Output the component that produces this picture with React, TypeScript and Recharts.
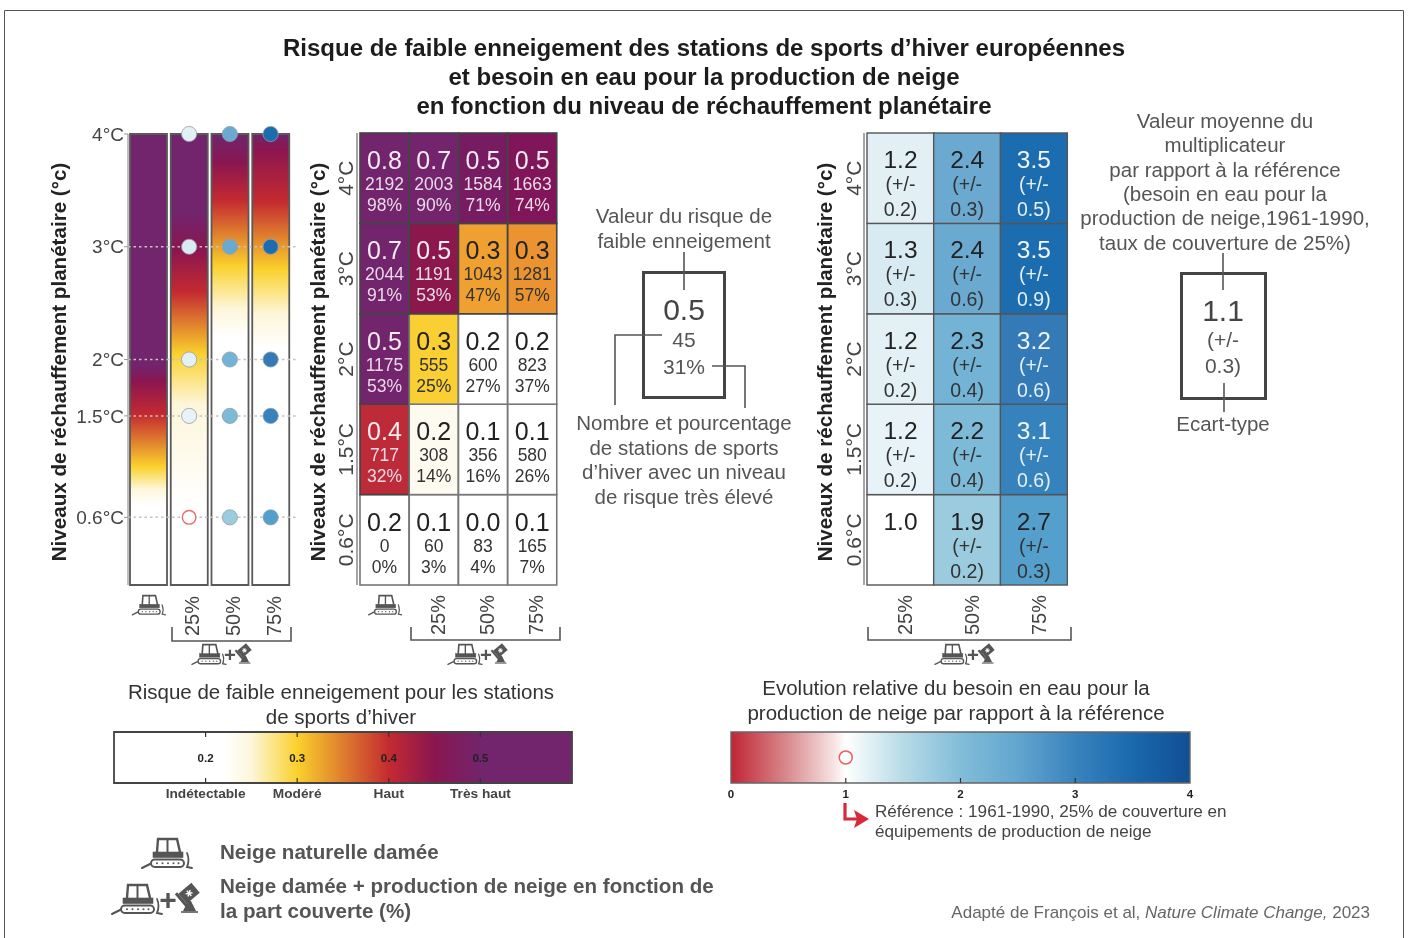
import React from 'react';
import { BarChart, ComposedChart, Bar, Line, Cell, XAxis, YAxis, ReferenceLine, ReferenceDot } from 'recharts';

// ---------- DATA ----------
const levelValues = [0.6, 1.5, 2, 3, 4];
const levelLabels = ['0.6°C', '1.5°C', '2°C', '3°C', '4°C'];
const riskScenarios = ['natural', '25%', '50%', '75%'];
const demandScenarios = ['25%', '50%', '75%'];

// all arrays below: 0.6 / 1.5 / 2 / 3 / 4 °C
const riskNatural = [0.2, 0.4, 0.5, 0.7, 0.8];
const risk25 = [0.1, 0.2, 0.3, 0.5, 0.7];
const risk50 = [0.0, 0.1, 0.2, 0.3, 0.5];
const risk75 = [0.1, 0.1, 0.2, 0.3, 0.5];
const countNatural = [0, 717, 1175, 2044, 2192];
const count25 = [60, 308, 555, 1191, 2003];
const count50 = [83, 356, 600, 1043, 1584];
const count75 = [165, 580, 823, 1281, 1663];
const pctNatural = [0, 32, 53, 91, 98];
const pct25 = [3, 14, 25, 53, 90];
const pct50 = [4, 16, 27, 47, 71];
const pct75 = [7, 26, 37, 57, 74];
const mult25 = [1.0, 1.2, 1.2, 1.3, 1.2];
const mult50 = [1.9, 2.2, 2.3, 2.4, 2.4];
const mult75 = [2.7, 3.1, 3.2, 3.5, 3.5];
const sd25 = [null, 0.2, 0.2, 0.3, 0.2];
const sd50 = [0.2, 0.4, 0.4, 0.6, 0.3];
const sd75 = [0.3, 0.6, 0.6, 0.9, 0.5];

// warming level at which each strip reaches the risk values of riskScale
const riskScale = [0.22, 0.25, 0.3, 0.4, 0.45, 0.5];
const stripNatural = [0.7, 0.85, 1.05, 1.51, 1.81, 1.95];
const strip25 = [0.7, 1.6, 2.05, 2.6, 2.97, 3.29];
const strip50 = [2.2, 2.45, 2.83, 3.41, 3.74, 3.98];
const strip75 = [2.09, 2.4, 2.8, 3.4, 3.87, 4.0];

const riskTicks = [0.2, 0.3, 0.4, 0.5];
const riskClasses = ['Indétectable', 'Modéré', 'Haut', 'Très haut'];
const demandTicks = [0, 1, 2, 3, 4];

// ---------- PALETTES ----------
const riskScaleColors = ['#ffffff', '#fdf6da', '#fad12c', '#c42a30', '#8a1650', '#72246c'];
const riskFillNatural = ['#ffffff', '#bd2a38', '#72246c', '#72246c', '#72246c'];
const riskFill25 = ['#ffffff', '#fdfaf0', '#f9cf34', '#8b174d', '#74246c'];
const riskFill50 = ['#ffffff', '#ffffff', '#ffffff', '#efa030', '#771c63'];
const riskFill75 = ['#ffffff', '#ffffff', '#ffffff', '#ea9330', '#80155a'];
const demandFill25 = ['#ffffff', '#e7f3f9', '#e3f0f6', '#d9ebf2', '#e2f0f6'];
const demandFill50 = ['#9bcbde', '#7cbad7', '#73b4d6', '#6aa9d0', '#6ba9d0'];
const demandFill75 = ['#559fcc', '#3582bd', '#337ab7', '#1c6cb0', '#1c6cb0'];
const demandBarStops = [
  [0, '#c02535'], [0.5, '#d98c90'], [0.9, '#f7e4e3'], [1, '#ffffff'], [1.5, '#b7dbe7'],
  [2, '#82bdd8'], [2.5, '#62a6cf'], [3, '#3983bd'], [3.5, '#1a68ae'], [4, '#114f94'],
];

const FONT = '"Liberation Sans", Arial, sans-serif';

const luma = (hex: string) => {
  const n = parseInt(hex.slice(1), 16);
  return 0.299 * (n >> 16) + 0.587 * ((n >> 8) & 255) + 0.114 * (n & 255);
};

// ---------- TABLES ----------
const strips = [stripNatural, strip25, strip50, strip75];
const dotFills = [null, demandFill25, demandFill50, demandFill75];
const stripData = riskScenarios.map((name, i) => {
  const row: any = { name, top: 4 };
  levelValues.forEach((v, r) => { row['l' + r] = i === 0 ? null : v; });
  return row;
});

const riskCols = [
  [riskNatural, countNatural, pctNatural, riskFillNatural],
  [risk25, count25, pct25, riskFill25],
  [risk50, count50, pct50, riskFill50],
  [risk75, count75, pct75, riskFill75],
];
const demandCols = [
  [mult25, sd25, demandFill25],
  [mult50, sd50, demandFill50],
  [mult75, sd75, demandFill75],
];
const cellRow = (name: string) => {
  const row: any = { name };
  levelValues.forEach((_, r) => { row['r' + r] = 1; });
  return row;
};
const riskData = riskScenarios.map(cellRow);
const demandData = demandScenarios.map(cellRow);
const rowTicks = levelValues.map((_, i) => i + 0.5);

// ---------- ICONS ----------
function Groomer({ x, y, s = 1 }: any) {
  return (
    <g transform={`translate(${x},${y}) scale(${s})`} fill="none" stroke="#555" strokeLinecap="round">
      <path d="M15 14 L16 1 H35 L38 14" strokeWidth="2.4" />
      <path d="M25.5 1 V14" strokeWidth="2" />
      <rect x="11" y="14" width="30" height="5.5" fill="#555" strokeWidth="0.6" />
      <rect x="9" y="21.5" width="33" height="7.5" rx="3.7" strokeWidth="2" />
      {[15, 20.5, 26, 31.5, 36.5].map((d) => <circle key={d} cx={d} cy="25.2" r="1" fill="#555" stroke="none" />)}
      <path d="M0 30 L8 26" strokeWidth="2" />
      <path d="M45 15 Q48 22 45 29 L50 30" strokeWidth="1.8" />
    </g>
  );
}
function Cannon({ x, y, s = 1 }: any) {
  return (
    <g transform={`translate(${x},${y}) scale(${s})`}>
      <g transform="rotate(-40 12 12)">
        <rect x="4" y="5" width="17" height="13" fill="#555" />
        <rect x="1" y="3" width="3" height="17" fill="#555" />
        <path d="M12.5 8 V15 M9.5 9.7 L15.5 13.3 M15.5 9.7 L9.5 13.3" stroke="#fff" strokeWidth="1.4" />
      </g>
      <path d="M11 19 L6 29 H19 L14 19 Z" fill="#555" />
      <path d="M4 30 H21" stroke="#555" strokeWidth="1.6" />
    </g>
  );
}
function IconPlus({ x, y, s }: any) {
  return (
    <g>
      <Groomer x={x} y={y} s={s} />
      <text x={x + 56 * s} y={y + 26 * s} fontSize={30 * s} fontWeight="bold" fill="#555" textAnchor="middle">+</text>
      <Cannon x={x + 65 * s} y={y - 2 * s} s={s} />
    </g>
  );
}

// ---------- AXIS TICKS ----------
const RotatedTick = (dx: number, dy: number, size: number) => (p: any) => {
  const { x, y, payload } = p;
  if (payload.value === 'natural') return <Groomer x={x - 16} y={y + 10} s={0.66} />;
  return (
    <text transform={`translate(${x + dx},${y + dy}) rotate(-90)`} textAnchor="end" fontSize={size} fontFamily={FONT} fill="#444">
      {payload.value}
    </text>
  );
};
const LevelTick = (p: any) => {
  const { x, y, payload } = p;
  const label = levelLabels[Math.floor(payload.value)];
  return (
    <text transform={`translate(${x},${y}) rotate(-90)`} textAnchor="middle" fontSize={21} fontFamily={FONT} fill="#444">
      {label}
    </text>
  );
};

const RiskCell = (r: number) => (p: any) => {
  const { x, y, width, height, index } = p;
  const [vals, counts, pcts, fills] = riskCols[index] as any[];
  const fill = fills[r];
  const light = luma(fill) < 125;
  const cx = x + width / 2;
  return (
    <g fontFamily={FONT} textAnchor="middle">
      <rect x={x} y={y} width={width} height={height} fill={fill} stroke={light || luma(fill) < 200 ? '#444' : '#777'} strokeWidth={1.6} />
      <text x={cx} y={y + 36} fontSize={25} fill={light ? '#f1ecf0' : '#222'}>{vals[r].toFixed(1)}</text>
      <text x={cx} y={y + 57} fontSize={17.5} fill={light ? '#e8dbe6' : '#333'}>{counts[r]}</text>
      <text x={cx} y={y + 78} fontSize={17.5} fill={light ? '#e8dbe6' : '#333'}>{pcts[r]}%</text>
    </g>
  );
};
const DemandCell = (r: number) => (p: any) => {
  const { x, y, width, height, index } = p;
  const [vals, sds, fills] = demandCols[index] as any[];
  const fill = fills[r];
  const light = luma(fill) < 125;
  const cx = x + width / 2;
  return (
    <g fontFamily={FONT} textAnchor="middle">
      <rect x={x} y={y} width={width} height={height} fill={fill} stroke="#555" strokeWidth={1.4} />
      <text x={cx} y={y + 35} fontSize={24.5} fill={light ? '#f2f6fa' : '#222'}>{vals[r].toFixed(1)}</text>
      {sds[r] !== null && (
        <>
          <text x={cx} y={y + 58} fontSize={19.5} fill={light ? '#e6eff6' : '#333'}>(+/-</text>
          <text x={cx} y={y + 83} fontSize={19.5} fill={light ? '#e6eff6' : '#333'}>{sds[r].toFixed(1)})</text>
        </>
      )}
    </g>
  );
};

const BarTick = (labels: string[] | null, mode: 'risk' | 'demand') => (p: any) => {
  const { x, y, payload, index } = p;
  const top = y - 51;
  return (
    <g fontFamily={FONT} textAnchor="middle">
      {mode === 'risk' && <line x1={x} x2={x} y1={top} y2={top + 5} stroke="#333" strokeWidth={1.2} />}
      {!(mode === 'demand' && (payload.value === 0 || payload.value === 4)) && (
        <line x1={x} x2={x} y1={y - 5} y2={y} stroke="#333" strokeWidth={1.2} />
      )}
      {mode === 'risk' && <text x={x} y={y - 21} fontSize={11.5} fontWeight="bold" fill="#222">{payload.value.toFixed(1)}</text>}
      {mode === 'risk' && <text x={x} y={y + 15} fontSize={13.7} fontWeight="bold" fill="#444">{labels![index]}</text>}
      {mode === 'demand' && <text x={x} y={y + 15} fontSize={11.5} fontWeight="bold" fill="#222">{payload.value}</text>}
    </g>
  );
};

// ---------- CHARTS ----------
function StripChart() {
  return (
    <div style={{ position: 'absolute', left: 40, top: 120 }}>
      <ComposedChart width={270} height={535} data={stripData} barCategoryGap={0}
        margin={{ top: 14, right: 14, bottom: 0, left: 0 }}>
        <defs>
          {strips.map((t, i) => (
            <linearGradient key={i} id={`strip${i}`} x1="0" y1="1" x2="0" y2="0">
              {t.map((lv, k) => (
                <stop key={k} offset={lv / 4} stopColor={riskScaleColors[k]} />
              ))}
            </linearGradient>
          ))}
        </defs>
        <XAxis dataKey="name" height={70} axisLine={false} tickLine={false} tick={RotatedTick(10, 11, 20)} interval={0} tickSize={0} tickMargin={0}
          padding={{ left: 0, right: 5 }} />
        <YAxis type="number" width={88} domain={[0, 4]} ticks={levelValues} interval={0}
          tickFormatter={(v: number) => `${v}°C`} tick={{ fontSize: 19, fontFamily: FONT, fill: '#444' }}
          axisLine={{ stroke: '#aaa', strokeWidth: 1.5 }} tickLine={{ stroke: '#999' }} tickSize={4} tickMargin={0} />
        <Bar dataKey="top" barSize={37} stroke="#5a5a5a" strokeWidth={1.8} isAnimationActive={false}>
          {stripData.map((_, i) => <Cell key={i} fill={`url(#strip${i})`} />)}
        </Bar>
        {levelValues.slice(0, 4).map((v) => (
          <ReferenceLine key={v} y={v} stroke="#c4c4c4" strokeWidth={1.5} strokeDasharray="2.5 3" />
        ))}
        {levelValues.map((_, r) => (
          <Line key={r} dataKey={'l' + r} stroke="none" isAnimationActive={false} legendType="none"
            dot={(p: any) => {
              if (p.cy == null || p.value == null || !dotFills[p.index]) return <g key={p.index} />;
              const fill = (dotFills[p.index] as string[])[r];
              const hollow = fill === '#ffffff';
              return (
                <circle key={p.index} cx={p.cx} cy={p.cy} r={hollow ? 6.8 : 7.6} fill={fill}
                  stroke={hollow ? '#ec6a6a' : '#8f9ea8'} strokeWidth={hollow ? 1.4 : 0.8} />
              );
            }} />
        ))}
      </ComposedChart>
    </div>
  );
}

function RiskHeat() {
  return (
    <div style={{ position: 'absolute', left: 300, top: 120 }}>
      <BarChart width={270} height={535} data={riskData} barCategoryGap={0}
        margin={{ top: 13, right: 13, bottom: 0, left: 0 }}>
        <XAxis dataKey="name" height={70} axisLine={false} tickLine={false} padding={{ left: 3, right: 0 }}
          tick={RotatedTick(11, 10, 20)} interval={0} tickSize={0} tickMargin={0} />
        <YAxis type="number" width={57} domain={[0, 5]} ticks={rowTicks} interval={0} tick={LevelTick}
          axisLine={{ stroke: '#888', strokeWidth: 1.5 }} tickLine={false} tickSize={0} tickMargin={4} />
        {levelValues.map((_, r) => (
          <Bar key={r} dataKey={'r' + r} stackId="cells" shape={RiskCell(r)} isAnimationActive={false} />
        ))}
      </BarChart>
    </div>
  );
}

function DemandHeat() {
  return (
    <div style={{ position: 'absolute', left: 810, top: 120 }}>
      <BarChart width={270} height={535} data={demandData} barCategoryGap={0}
        margin={{ top: 13, right: 13, bottom: 0, left: 0 }}>
        <XAxis dataKey="name" height={70} axisLine={false} tickLine={false} padding={{ left: 3, right: 0 }}
          tick={RotatedTick(12, 10, 20)} interval={0} tickSize={0} tickMargin={0} />
        <YAxis type="number" width={54} domain={[0, 5]} ticks={rowTicks} interval={0} tick={LevelTick}
          axisLine={{ stroke: '#888', strokeWidth: 1.5 }} tickLine={false} tickSize={0} tickMargin={3} />
        {levelValues.map((_, r) => (
          <Bar key={r} dataKey={'r' + r} stackId="cells" shape={DemandCell(r)} isAnimationActive={false} />
        ))}
      </BarChart>
    </div>
  );
}

function RiskBar() {
  const data = [{ name: 'risk', span: [0.1, 0.6] }];
  return (
    <div style={{ position: 'absolute', left: 94, top: 722 }}>
      <BarChart layout="vertical" width={498} height={95} data={data} barCategoryGap={0}
        margin={{ top: 10, right: 20, bottom: 0, left: 20 }}>
        <defs>
          <linearGradient id="riskBar" x1="0" y1="0" x2="1" y2="0">
            {riskScale.map((v, k) => (
              <stop key={k} offset={(v - 0.1) / 0.5} stopColor={riskScaleColors[k]} />
            ))}
          </linearGradient>
        </defs>
        <XAxis type="number" domain={[0.1, 0.6]} ticks={riskTicks} interval={0} height={34} axisLine={false} tickLine={false}
          tickSize={0} tickMargin={0} tick={BarTick(riskClasses, 'risk')} />
        <YAxis type="category" dataKey="name" hide />
        <Bar dataKey="span" fill="url(#riskBar)" stroke="#444" strokeWidth={1.8} isAnimationActive={false} />
      </BarChart>
    </div>
  );
}

function DemandBar() {
  const data = [{ name: 'demand', span: [0, 4] }];
  return (
    <div style={{ position: 'absolute', left: 711, top: 722 }}>
      <BarChart layout="vertical" width={499} height={95} data={data} barCategoryGap={0}
        margin={{ top: 10, right: 20, bottom: 0, left: 20 }}>
        <defs>
          <linearGradient id="demandBar" x1="0" y1="0" x2="1" y2="0">
            {demandBarStops.map(([v, c]: any, k) => (
              <stop key={k} offset={v / 4} stopColor={c} />
            ))}
          </linearGradient>
        </defs>
        <XAxis type="number" domain={[0, 4]} ticks={demandTicks} interval={0} height={34} axisLine={false} tickLine={false}
          tickSize={0} tickMargin={0} tick={BarTick(null, 'demand')} />
        <YAxis type="category" dataKey="name" hide />
        <Bar dataKey="span" fill="url(#demandBar)" stroke="#666" strokeWidth={1.4} isAnimationActive={false} />
        <ReferenceDot x={1} y="demand" r={6.5} fill="#fff" stroke="#ec5f5f" strokeWidth={1.5} />
      </BarChart>
    </div>
  );
}

// ---------- OVERLAY ----------
const Lines = ({ x, ys, lines, size, fill, weight, anchor = 'middle' }: any) => (
  <g fontSize={size} fill={fill} fontWeight={weight} textAnchor={anchor}>
    {lines.map((t: string, i: number) => <text key={i} x={x} y={ys[i]}>{t}</text>)}
  </g>
);

function Overlay() {
  const line = { stroke: '#555', strokeWidth: 1.6, fill: 'none' };
  return (
    <svg width={1411} height={938} style={{ position: 'absolute', left: 0, top: 0 }} fontFamily={FONT}>
      <path d="M4.5 938 V10.5 H1403.5 V938" fill="none" stroke="#555" strokeWidth={1} />
      <Lines x={704} ys={[56, 85, 114]} size={24.03} fill="#1c1c1c" weight="bold" lines={[
        'Risque de faible enneigement des stations de sports d’hiver européennes',
        'et besoin en eau pour la production de neige',
        'en fonction du niveau de réchauffement planétaire',
      ]} />
      {[[66, 362], [325, 362], [832, 362]].map(([x, y]) => (
        <text key={x} transform={`translate(${x},${y}) rotate(-90)`} textAnchor="middle" fontSize={20.6} fontWeight="bold" fill="#222">
          Niveaux de réchauffement planétaire (°c)
        </text>
      ))}

      {/* brackets */}
      <path d="M172 627 V641 H291 V627" {...line} />
      <path d="M411 627 V640 H560 V627" {...line} />
      <path d="M868 627 V640 H1071 V627" {...line} />
      <IconPlus x={192} y={644} s={0.68} />
      <IconPlus x={448} y={644} s={0.68} />
      <IconPlus x={935} y={644} s={0.68} />

      {/* explanation box 1 */}
      <Lines x={684} ys={[223, 248]} size={20.5} fill="#555" lines={['Valeur du risque de', 'faible enneigement']} />
      <rect x={643.5} y={272.5} width={81} height={125} fill="none" stroke="#444" strokeWidth={3} />
      <path d="M684 252 V290 M662 335 H615 V405 M712 366 H745 V408" {...line} />
      <text x={684} y={320} fontSize={30} textAnchor="middle" fill="#444">0.5</text>
      <text x={684} y={347} fontSize={21} textAnchor="middle" fill="#555">45</text>
      <text x={684} y={374} fontSize={21} textAnchor="middle" fill="#555">31%</text>
      <Lines x={684} ys={[430, 455, 479, 504]} size={20.5} fill="#555" lines={[
        'Nombre et pourcentage', 'de stations de sports', 'd’hiver avec un niveau', 'de risque très élevé',
      ]} />

      {/* explanation box 2 */}
      <Lines x={1225} ys={[128, 152, 177, 201, 225, 250]} size={20.5} fill="#555" lines={[
        'Valeur moyenne du', 'multiplicateur', 'par rapport à la référence', '(besoin en eau pour la',
        'production de neige,1961-1990,', 'taux de couverture de 25%)',
      ]} />
      <rect x={1181.5} y={273.5} width={84} height={125} fill="none" stroke="#444" strokeWidth={3} />
      <path d="M1223 253 V290 M1224 383 V412" {...line} />
      <text x={1223} y={321} fontSize={30} textAnchor="middle" fill="#444">1.1</text>
      <text x={1223} y={347} fontSize={21} textAnchor="middle" fill="#555">(+/-</text>
      <text x={1223} y={373} fontSize={21} textAnchor="middle" fill="#555">0.3)</text>
      <text x={1223} y={431} fontSize={20.5} textAnchor="middle" fill="#555">Ecart-type</text>

      {/* legends */}
      <Lines x={341} ys={[699, 724]} size={20.5} fill="#333" lines={['Risque de faible enneigement pour les stations', 'de sports d’hiver']} />
      <Lines x={956} ys={[695, 720]} size={20.5} fill="#333" lines={['Evolution relative du besoin en eau pour la', 'production de neige par rapport à la référence']} />
      <path d="M845 803 V819 H858" fill="none" stroke="#d8293a" strokeWidth={3.2} />
      <path d="M854 810 L869 819 L854 828 L857 819 Z" fill="#d8293a" />
      <Lines x={875} ys={[817, 837]} size={17.1} fill="#444" anchor="start" lines={[
        'Référence : 1961-1990, 25% de couverture en', 'équipements de production de neige',
      ]} />

      <Groomer x={142} y={838} s={1} />
      <text x={220} y={859} fontSize={20.6} fontWeight="bold" fill="#555">Neige naturelle damée</text>
      <IconPlus x={112} y={884} s={1} />
      <Lines x={220} ys={[893, 918]} size={20.6} weight="bold" fill="#555" anchor="start" lines={[
        'Neige damée + production de neige en fonction de', 'la part couverte (%)',
      ]} />
      <text x={1370} y={918} fontSize={17} textAnchor="end" fill="#666">
        Adapté de François et al, <tspan fontStyle="italic">Nature Climate Change,</tspan> 2023
      </text>
    </svg>
  );
}

export default function App() {
  return (
    <div style={{ position: 'absolute', left: 0, top: 0, width: 1411, height: 938, overflow: 'hidden', background: '#fff', fontFamily: FONT, filter: 'blur(0.45px)' }}>
      <Overlay />
      <StripChart />
      <RiskHeat />
      <DemandHeat />
      <RiskBar />
      <DemandBar />
    </div>
  );
}
